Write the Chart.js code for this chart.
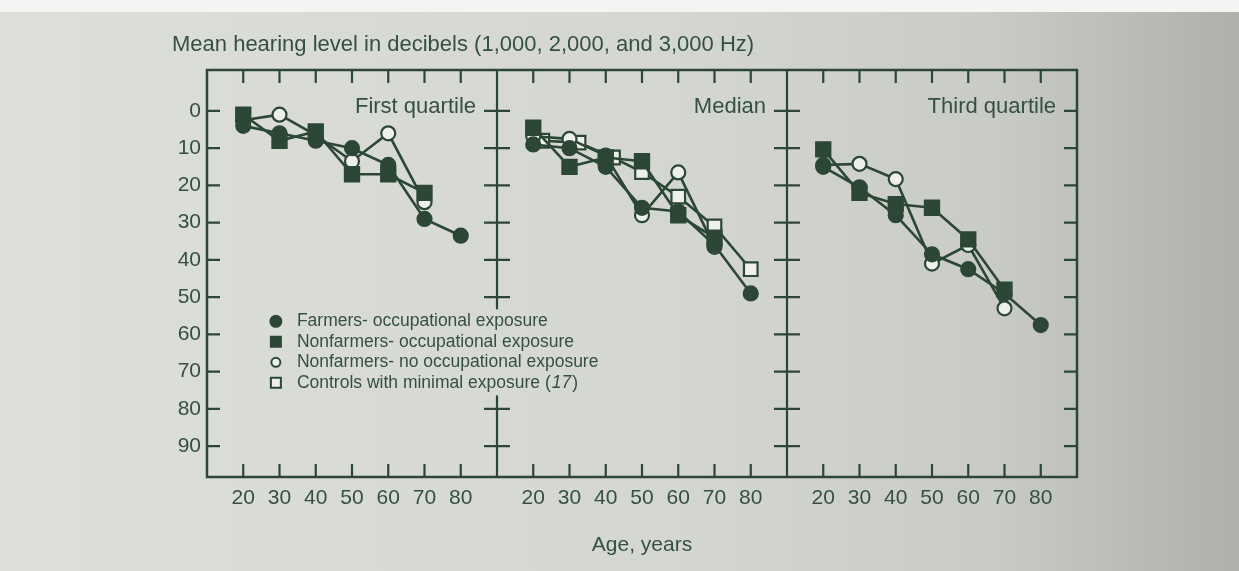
<!DOCTYPE html>
<html>
<head>
<meta charset="utf-8">
<script src="https://cdn.jsdelivr.net/npm/chart.js@4.4.1/dist/chart.umd.min.js"></script>
<style>
  html, body { margin: 0; padding: 0; background: #d4d6d2; }
  #wrap { width: 1239px; height: 571px; position: relative; }
</style>
</head>
<body>
<div id="wrap"><canvas id="hearingChart" width="1239" height="571"></canvas></div>
<script>
// ages on each panel, controls are drawn slightly offset in the first decades
const ages = [20, 30, 40, 50, 60, 70, 80];
const controlAges = [22.5, 32.5, 42, 50, 60, 70, 80];
const panelTitles = ["First quartile", "Median", "Third quartile"];
const panelOffset = [0, 80, 160];
const yTicks = [0, 10, 20, 30, 40, 50, 60, 70, 80, 90];

const seriesNames = [
  "Farmers- occupational exposure",
  "Nonfarmers- occupational exposure",
  "Nonfarmers- no occupational exposure",
  "Controls with minimal exposure ("
];

// first quartile
const farmersQ1 = [4, 6, 8, 10, 14.5, 29, 33.5];
const nonfarmOccQ1 = [1, 8, 5.5, 17, 17, 22];
const nonfarmNoQ1 = [2.5, 1, 6.5, 13.5, 6, 24.5];

// median
const farmersMed = [9, 10, 15, 26, 27, 36, 49];
const nonfarmOccMed = [4.5, 15, 12.5, 13.5, 28, 34];
const nonfarmNoMed = [6.8, 7.5, 12, 28, 16.5, 36.5];
const controlsMed = [8, 8.5, 12.5, 16.4, 23, 31, 42.5];

// third quartile
const farmersQ3 = [15, 20.5, 28, 38.5, 42.5, 49, 57.5];
const nonfarmOccQ3 = [10.3, 22, 25, 26, 34.5, 48];
const nonfarmNoQ3 = [14.5, 14.2, 18.3, 41, 36, 53];

const ink = "#2c4735";
const textInk = "#34503f";
const paper = "#eef0ec";
const fontFamily = "'Liberation Sans', Arial, Helvetica, sans-serif";

const markerStyles = [
  { pointStyle: "circle", radius: 7, fill: ink },
  { pointStyle: "rect", radius: 10, fill: ink },
  { pointStyle: "circle", radius: 7, fill: paper },
  { pointStyle: "rect", radius: 9.6, fill: paper }
];

function series(values, xs, panel, kind) {
  const style = markerStyles[kind];
  return {
    label: seriesNames[kind],
    data: values.map((v, i) => ({ x: xs[i] + panelOffset[panel], y: v })),
    showLine: true,
    tension: 0,
    borderColor: ink,
    borderWidth: 2.6,
    pointStyle: style.pointStyle,
    pointRadius: style.radius,
    pointHoverRadius: style.radius,
    pointBackgroundColor: style.fill,
    pointBorderColor: ink,
    pointBorderWidth: 2.2
  };
}

const datasets = [
  series(farmersQ1, ages, 0, 0),
  series(nonfarmOccQ1, ages, 0, 1),
  series(nonfarmNoQ1, ages, 0, 2),
  series(farmersMed, ages, 1, 0),
  series(nonfarmOccMed, ages, 1, 1),
  series(nonfarmNoMed, ages, 1, 2),
  series(controlsMed, controlAges, 1, 3),
  series(farmersQ3, ages, 2, 0),
  series(nonfarmOccQ3, ages, 2, 1),
  series(nonfarmNoQ3, ages, 2, 2)
];

const xTickValues = panelOffset.flatMap(o => ages.map(a => a + o));

function paperFill(ctx, width) {
  const g = ctx.createLinearGradient(0, 0, width, 0);
  g.addColorStop(0, "#dddfdb");
  g.addColorStop(0.55, "#d4d6d2");
  g.addColorStop(0.8, "#c9cbc7");
  g.addColorStop(1, "#aeb0ac");
  return g;
}

const paperBackground = {
  id: "paperBackground",
  beforeDraw(chart) {
    const { ctx, width, height } = chart;
    ctx.save();
    ctx.fillStyle = paperFill(ctx, width);
    ctx.fillRect(0, 0, width, height);
    ctx.fillStyle = "#f4f4f2";
    ctx.fillRect(0, 0, width, 12);
    ctx.restore();
  }
};

const frameAndLabels = {
  id: "frameAndLabels",
  beforeDatasetsDraw(chart) {
    const { ctx, chartArea: area, scales, width } = chart;
    const x = scales.x;
    const y = scales.y;
    const tick = 13;
    ctx.save();
    ctx.strokeStyle = ink;
    ctx.lineWidth = 2.5;
    ctx.strokeRect(area.left, area.top, area.right - area.left, area.bottom - area.top);

    ctx.lineWidth = 2.2;
    ctx.beginPath();
    // panel dividers with crossing ticks
    panelOffset.slice(1).forEach(o => {
      const px = x.getPixelForValue(10 + o);
      ctx.moveTo(px, area.top);
      ctx.lineTo(px, area.bottom);
      yTicks.forEach(v => {
        const py = y.getPixelForValue(v);
        ctx.moveTo(px - tick, py);
        ctx.lineTo(px + tick, py);
      });
    });
    yTicks.forEach(v => {
      const py = y.getPixelForValue(v);
      ctx.moveTo(area.left, py);
      ctx.lineTo(area.left + tick, py);
      ctx.moveTo(area.right, py);
      ctx.lineTo(area.right - tick, py);
    });
    xTickValues.forEach(v => {
      const px = x.getPixelForValue(v);
      ctx.moveTo(px, area.bottom);
      ctx.lineTo(px, area.bottom - tick);
      ctx.moveTo(px, area.top);
      ctx.lineTo(px, area.top + tick);
    });
    ctx.stroke();

    // panel titles
    ctx.fillStyle = textInk;
    ctx.font = "22px " + fontFamily;
    ctx.textAlign = "right";
    ctx.textBaseline = "middle";
    panelTitles.forEach((t, i) => {
      const px = x.getPixelForValue(90 + panelOffset[i]);
      ctx.fillText(t, px - 21, y.getPixelForValue(0) - 4);
    });

    // main title above the frame
    ctx.textAlign = "left";
    ctx.fillText("Mean hearing level in decibels (1,000, 2,000, and 3,000 Hz)", area.left - 35, 45);

    // legend, the divider is broken behind it
    const lx = x.getPixelForValue(29);
    const tx = lx + 21;
    const ly0 = y.getPixelForValue(56.5);
    ctx.fillStyle = paperFill(ctx, width);
    ctx.fillRect(tx - 4, ly0 - 12, 316, 86);
    ctx.font = "17.5px " + fontFamily;
    seriesNames.forEach((name, i) => {
      const ly = ly0 + i * 20.5;
      const style = markerStyles[i];
      ctx.fillStyle = style.fill;
      ctx.strokeStyle = ink;
      ctx.lineWidth = 2;
      ctx.beginPath();
      if (style.pointStyle === "circle") {
        ctx.arc(lx, ly, i === 0 ? 5.5 : 4.5, 0, Math.PI * 2);
      } else {
        ctx.rect(lx - 5, ly - 5, 10, 10);
      }
      ctx.fill();
      ctx.stroke();
      ctx.fillStyle = textInk;
      ctx.fillText(name, tx, ly);
      if (i === 3) {
        let w = ctx.measureText(name).width;
        ctx.font = "italic 17.5px " + fontFamily;
        ctx.fillText("17", tx + w + 1, ly);
        w += ctx.measureText("17").width + 2;
        ctx.font = "17.5px " + fontFamily;
        ctx.fillText(")", tx + w, ly);
      }
    });
    ctx.restore();
  }
};

new Chart(document.getElementById("hearingChart"), {
  type: "scatter",
  data: { datasets },
  options: {
    responsive: false,
    animation: false,
    layout: { padding: { top: 70, right: 162, left: 0, bottom: 0 } },
    plugins: {
      legend: { display: false },
      tooltip: { enabled: false }
    },
    scales: {
      x: {
        type: "linear",
        min: 10,
        max: 250,
        border: { display: false },
        grid: { display: false, drawTicks: false },
        afterBuildTicks: scale => {
          scale.ticks = xTickValues.map(v => ({ value: v }));
        },
        afterFit: scale => { scale.height = 94; },
        ticks: {
          padding: 9,
          color: textInk,
          font: { family: fontFamily, size: 21 },
          maxRotation: 0,
          autoSkip: false,
          callback: value => String(((value - 10) % 80) + 10)
        },
        title: {
          display: true,
          text: "Age, years",
          color: textInk,
          font: { family: fontFamily, size: 21 },
          padding: { top: 0, bottom: 13 }
        }
      },
      y: {
        type: "linear",
        reverse: true,
        min: -11,
        max: 98.3,
        border: { display: false },
        grid: { display: false, drawTicks: false },
        afterBuildTicks: scale => {
          scale.ticks = yTicks.map(v => ({ value: v }));
        },
        afterFit: scale => { scale.width = 207; },
        ticks: {
          padding: 6,
          color: textInk,
          font: { family: fontFamily, size: 21 },
          autoSkip: false
        }
      }
    }
  },
  plugins: [paperBackground, frameAndLabels]
});
</script>
</body>
</html>
